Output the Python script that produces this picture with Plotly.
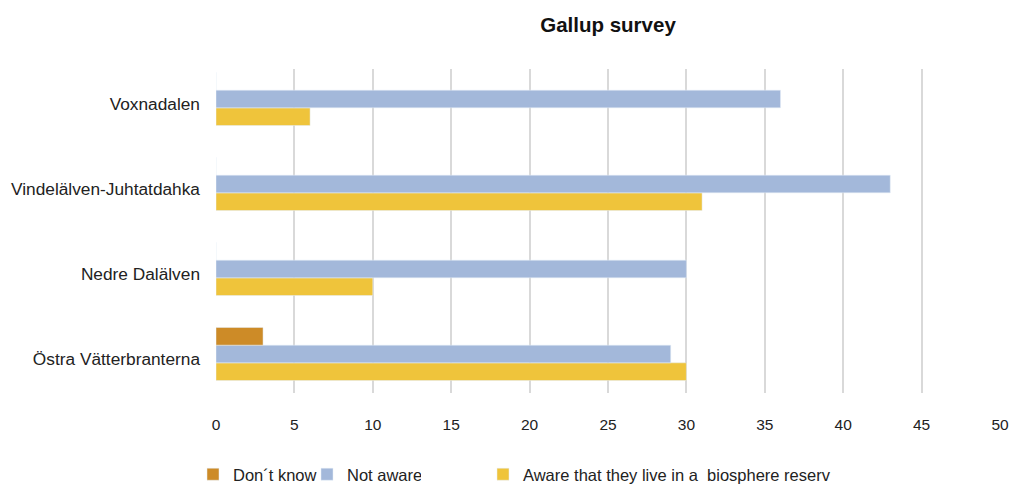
import plotly.graph_objects as go

categories = ["Voxnadalen", "Vindelälven-Juhtatdahka", "Nedre Dalälven", "Östra Vätterbranterna"]
dont_know = [0, 0, 0, 3]
not_aware = [36, 43, 30, 29]
aware = [6, 31, 10, 30]
x_ticks = [0, 5, 10, 15, 20, 25, 30, 35, 40, 45, 50]

legend_font = dict(family="Liberation Sans Narrow, Liberation Sans, Arial", size=16.5, color="#222")

fig = go.Figure()
fig.add_trace(go.Bar(y=categories, x=aware, orientation="h", name="Aware that they live in a  biosphere reserv",
                     marker_color="#EFC43B", legend="legend2"))
fig.add_trace(go.Bar(y=categories, x=not_aware, orientation="h", name="Not aware",
                     marker_color="#A3B8DA", legend="legend", legendrank=2))
fig.add_trace(go.Bar(y=categories, x=dont_know, orientation="h", name="Don´t know",
                     marker_color="#CD8B27", legend="legend", legendrank=1))

fig.update_layout(
    width=1011, height=486,
    margin=dict(l=216, r=11, t=69, b=93, autoexpand=False),
    paper_bgcolor="white", plot_bgcolor="white",
    barmode="group", bargap=0.376, bargroupgap=0,
    title=dict(text="<b>Gallup survey</b>", x=(216 + 1000) / 2 / 1011, xanchor="center", y=0.948, yanchor="middle",
               font=dict(family="Liberation Sans Narrow, Liberation Sans, Arial", size=20.5, color="#111")),
    font=dict(family="Liberation Sans, Arial", size=14, color="#222"),
    xaxis=dict(range=[0, 50], tickvals=x_ticks, showgrid=True, gridcolor="#D9D9D9", gridwidth=2,
               zeroline=False, showline=False, ticks="", ticklabelstandoff=20,
               tickfont=dict(size=15.5)),
    yaxis=dict(categoryorder="array", categoryarray=categories[::-1], range=[-0.459, 3.353],
               showgrid=False, zeroline=False,
               ticks="", ticklabelstandoff=15, ticklabelshift=5, tickfont=dict(size=17.3)),
    legend=dict(orientation="h", xref="container", yref="container", x=193 / 1011, xanchor="left",
                y=1 - 457 / 486, yanchor="top", font=legend_font, itemwidth=30,
                entrywidth=69, entrywidthmode="pixels", tracegroupgap=0),
    legend2=dict(orientation="h", xref="container", yref="container", x=483 / 1011, xanchor="left",
                 y=1 - 457 / 486, yanchor="top", font=legend_font, itemwidth=30),
)
fig.write_html("out.html")
